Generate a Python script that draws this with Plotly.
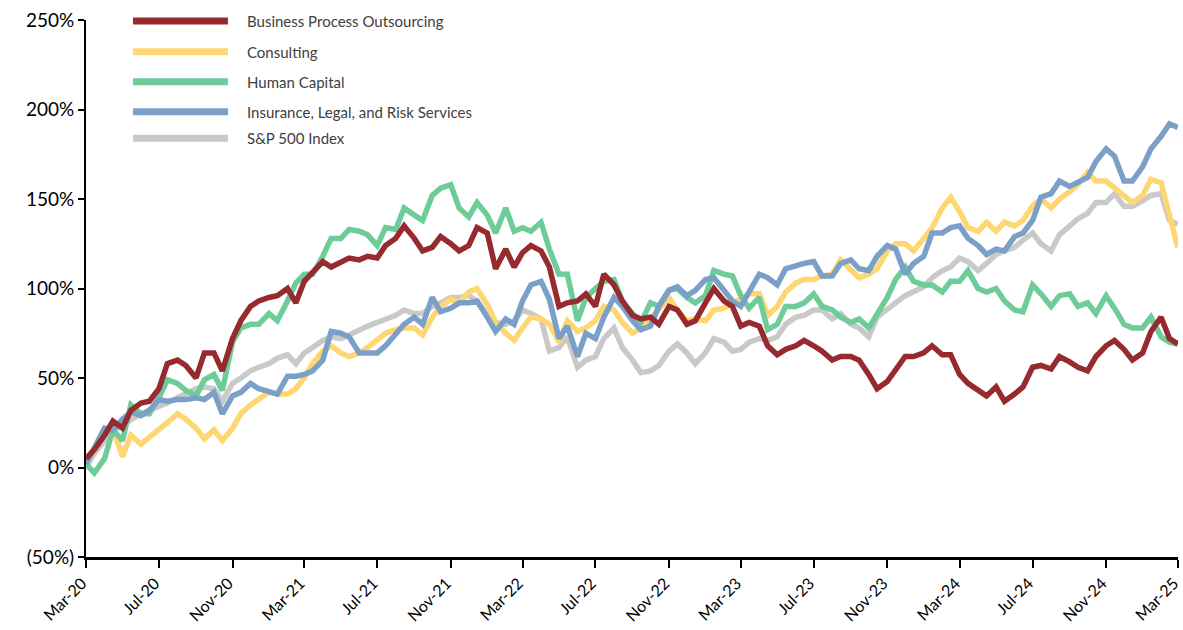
import plotly.graph_objects as go
from datetime import date, datetime

# ---- data (percent change since Mar-2020, semi-monthly readings) ----
series_names = ["Business Process Outsourcing", "Consulting", "Human Capital",
                "Insurance, Legal, and Risk Services", "S&P 500 Index"]

bpo = [5, 10, 18, 26, 22, 32, 36, 37, 44, 58, 60, 57, 50, 64, 64, 54, 72, 82, 90, 93,
       95, 96, 100, 92, 104, 109, 115, 112, 115, 117, 116, 118, 117, 124, 128, 135, 128, 121, 123, 129,
       125, 121, 124, 134, 131, 111, 122, 112, 120, 124, 121, 112, 90, 92, 93, 97, 90, 108, 102, 93,
       85, 83, 84, 80, 90, 88, 80, 82, 92, 100, 93, 90, 79, 81, 79, 68, 63, 66, 68, 71,
       68, 65, 60, 62, 62, 60, 52, 44, 48, 54, 62, 62, 64, 68, 63, 63, 52, 47, 43, 40,
       45, 37, 41, 45, 56, 57, 55, 62, 59, 56, 54, 62, 68, 71, 66, 60, 64, 76, 84, 72, 69]

consulting = [2, 10, 20, 22, 6, 18, 13, 17, 21, 25, 30, 27, 22, 16, 21, 15, 22, 30, 35, 38,
              42, 41, 41, 44, 50, 58, 65, 68, 64, 62, 64, 67, 71, 75, 77, 78, 78, 74, 84, 90,
              94, 92, 98, 100, 91, 81, 75, 71, 78, 84, 83, 80, 70, 82, 76, 78, 82, 90, 88, 81,
              75, 78, 83, 88, 95, 88, 82, 83, 82, 88, 89, 92, 94, 97, 97, 85, 90, 98, 103, 105,
              105, 107, 108, 116, 111, 106, 108, 111, 121, 125, 125, 121, 128, 134, 145, 151, 143, 134, 132, 137,
              132, 137, 135, 138, 146, 150, 145, 150, 154, 158, 165, 160, 160, 156, 151, 148, 152, 161, 159, 140, 123]

human_capital = [2, -3, 5, 21, 15, 35, 30, 30, 39, 49, 47, 43, 40, 49, 52, 43, 70, 78, 80, 80,
                 86, 82, 93, 103, 108, 108, 118, 128, 128, 133, 132, 130, 124, 134, 133, 145, 141, 138, 152, 156,
                 158, 145, 140, 148, 141, 131, 145, 132, 134, 132, 137, 122, 108, 108, 82, 95, 100, 104, 105, 93,
                 86, 81, 92, 90, 99, 100, 95, 92, 96, 110, 108, 107, 96, 89, 95, 77, 80, 90, 90, 92,
                 97, 90, 88, 84, 81, 83, 78, 86, 95, 105, 112, 104, 102, 102, 98, 104, 104, 110, 100, 98,
                 100, 93, 88, 87, 102, 97, 90, 96, 97, 90, 92, 86, 96, 89, 80, 78, 78, 84, 73, 70, 69]

insurance = [2, 11, 22, 21, 27, 31, 29, 32, 38, 37, 38, 38, 39, 38, 42, 30, 40, 42, 47, 44,
             42, 41, 51, 51, 52, 54, 60, 76, 75, 73, 64, 64, 64, 68, 74, 80, 84, 80, 95, 87,
             89, 92, 92, 93, 84, 76, 83, 80, 93, 102, 104, 94, 72, 79, 62, 75, 72, 84, 95, 90,
             82, 77, 79, 90, 99, 101, 96, 99, 105, 106, 99, 93, 90, 98, 108, 106, 102, 111, 113, 114,
             115, 107, 107, 114, 116, 111, 110, 118, 124, 122, 108, 114, 118, 131, 131, 134, 135, 128, 124, 119,
             122, 121, 129, 131, 138, 151, 153, 160, 157, 159, 162, 171, 178, 174, 160, 160, 168, 178, 185, 192, 190]

sp500 = [0, 8, 15, 20, 24, 27, 30, 32, 34, 36, 39, 41, 44, 45, 44, 37, 47, 50, 54, 56,
         58, 61, 63, 58, 64, 67, 71, 73, 72, 74, 77, 79, 81, 83, 85, 88, 86, 86, 90, 92,
         95, 95, 96, 93, 85, 81, 80, 82, 88, 86, 83, 65, 67, 73, 56, 60, 62, 72, 78, 67,
         60, 53, 54, 57, 65, 69, 64, 58, 64, 72, 70, 65, 66, 70, 72, 71, 73, 80, 84, 85,
         88, 88, 83, 86, 80, 78, 73, 84, 88, 92, 96, 98, 101, 106, 110, 112, 117, 115, 110, 114,
         119, 121, 123, 127, 131, 125, 121, 130, 135, 139, 142, 148, 148, 153, 146, 146, 149, 152, 153, 138, 136]

series_values = [bpo, consulting, human_capital, insurance, sp500]
series_colors = ["#972A2E", "#FFD772", "#6DCC98", "#7BA0C7", "#C9C9C9"]

y_tickvals = [-50, 0, 50, 100, 150, 200, 250]
y_ticktext = ["(50%)", "0%", "50%", "100%", "150%", "200%", "250%"]

x_ticktext = ["Mar-20", "Jul-20", "Nov-20", "Mar-21", "Jul-21", "Nov-21", "Mar-22", "Jul-22",
              "Nov-22", "Mar-23", "Jul-23", "Nov-23", "Mar-24", "Jul-24", "Nov-24", "Mar-25"]

# semi-monthly dates: 1st and 15th of each month, Mar-2020 .. Mar-2025
dates = []
y0, m0 = 2020, 3
for k in range(61):
    yy = y0 + (m0 - 1 + k) // 12
    mm = (m0 - 1 + k) % 12 + 1
    dates.append(date(yy, mm, 1))
    if k < 60:
        dates.append(date(yy, mm, 15))

# tick positions every 4 months
x_tickvals = []
for k in range(0, 61, 4):
    yy = y0 + (m0 - 1 + k) // 12
    mm = (m0 - 1 + k) % 12 + 1
    x_tickvals.append(date(yy, mm, 1))

FONT = "Lato, 'Liberation Sans', sans-serif"

fig = go.Figure()
# draw order: S&P behind, BPO on top
for idx in [4, 1, 2, 3, 0]:
    fig.add_trace(go.Scatter(
        x=dates, y=series_values[idx], mode="lines", name=series_names[idx],
        line=dict(color=series_colors[idx], width=5.5), showlegend=False,
    ))

# custom legend (long line samples like the original)
leg_rows = [0.998, 0.941, 0.885, 0.829, 0.780]
for name, color, yy in zip(series_names, series_colors, leg_rows):
    fig.add_shape(type="line", xref="paper", yref="paper", x0=0.043, x1=0.130, y0=yy, y1=yy,
                  line=dict(color=color, width=7), layer="above")
    fig.add_annotation(xref="paper", yref="paper", x=0.146, y=yy, text=name, showarrow=False,
                       xanchor="left", yanchor="middle",
                       font=dict(family=FONT, size=15, color="#404040"))

fig.update_layout(
    width=1183, height=630,
    margin=dict(l=86, r=5, t=20, b=73, autoexpand=False),
    paper_bgcolor="white", plot_bgcolor="white",
    font=dict(family=FONT, color="black"),
)
fig.update_xaxes(
    range=[datetime(2020, 3, 1), datetime(2025, 3, 1, 6)],
    tickvals=x_tickvals, ticktext=x_ticktext, tickangle=-45, ticklabeloverflow="allow",
    ticklabelshift=-4,
    ticks="outside", ticklen=8, tickwidth=1.5, tickcolor="black",
    showline=True, linecolor="black", linewidth=2.5, showgrid=False, zeroline=False,
    tickfont=dict(size=16, color="black", family=FONT),
)
fig.update_yaxes(
    range=[-50, 250], tickvals=y_tickvals, ticktext=y_ticktext,
    ticks="outside", ticklen=6, tickwidth=2, tickcolor="black",
    showline=True, linecolor="black", linewidth=2, showgrid=False, zeroline=False,
    tickfont=dict(size=19, color="black", family=FONT),
)

fig.write_html("out.html", config={"displayModeBar": False},
               post_script="document.body.style.margin='0';")
